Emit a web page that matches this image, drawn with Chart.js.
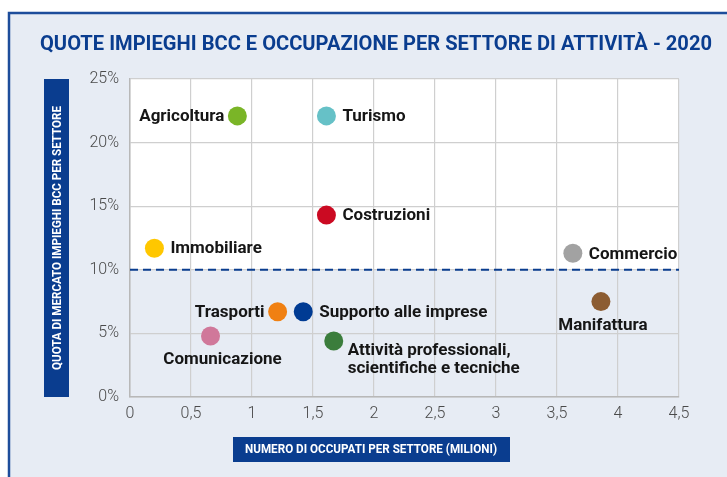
<!DOCTYPE html>
<html>
<head>
<meta charset="utf-8">
<script src="https://cdn.jsdelivr.net/npm/chart.js@4"></script>
<style>
  html, body { margin: 0; padding: 0; background: #ffffff; }
  #wrap { width: 727px; height: 477px; }
</style>
</head>
<body>
<div id="wrap"><canvas id="chart" width="727" height="477"></canvas></div>
<script>
// dati
const sectors = ['Agricoltura', 'Turismo', 'Costruzioni', 'Immobiliare', 'Trasporti',
    'Supporto alle imprese', 'Comunicazione', 'Attività professionali,\nscientifiche e tecniche',
    'Commercio', 'Manifattura'];
const employed = [0.88, 1.61, 1.61, 0.20, 1.21, 1.42, 0.66, 1.67, 3.63, 3.86];   // milioni
const share = [22.1, 22.1, 14.3, 11.7, 6.7, 6.7, 4.8, 4.4, 11.3, 7.5];          // %
const colors = ['#7ab527', '#66c1c7', '#cb0a22', '#ffc700', '#f08012', '#003b93',
    '#d0789a', '#3b7d3c', '#a2a2a2', '#8c5c32'];
const labelPos = ['left', 'right', 'right', 'right', 'left', 'right', 'below', 'belowright', 'right', 'below'];
const xTicks = [0, 0.5, 1, 1.5, 2, 2.5, 3, 3.5, 4, 4.5];
const yTicks = [0, 5, 10, 15, 20, 25];
const threshold = 10;

const BG = '#e7ecf4';
const NAVY = '#0a3d8f';

const decor = {
    id: 'decor',
    beforeDraw(chart) {
        const c = chart.ctx;
        const a = chart.chartArea;
        const y = chart.scales.y;
        c.save();
        c.fillStyle = '#ffffff';
        c.fillRect(0, 0, chart.width, chart.height);
        c.fillStyle = BG;
        c.fillRect(9, 13, chart.width - 9, chart.height - 13);
        // bordo blu
        c.strokeStyle = '#1d4d9b';
        c.lineWidth = 2.5;
        c.beginPath();
        c.moveTo(9, chart.height);
        c.lineTo(9, 13);
        c.lineTo(chart.width, 13);
        c.stroke();
        // area sopra la soglia in bianco
        const yt = y.getPixelForValue(threshold);
        c.fillStyle = '#ffffff';
        c.fillRect(a.left, a.top, a.right - a.left, yt - a.top);
        // titolo
        c.fillStyle = NAVY;
        c.font = 'bold 21px Roboto';
        c.textAlign = 'center';
        c.textBaseline = 'middle';
        c.fillText('QUOTE IMPIEGHI BCC E OCCUPAZIONE PER SETTORE DI ATTIVITÀ - 2020', 376, 45, 672);
        c.restore();
    },
    beforeDatasetsDraw(chart) {
        const c = chart.ctx;
        const a = chart.chartArea;
        const yt = chart.scales.y.getPixelForValue(threshold);
        c.save();
        c.strokeStyle = NAVY;
        c.lineWidth = 2;
        c.setLineDash([8, 5]);
        c.beginPath();
        c.moveTo(a.left, yt);
        c.lineTo(a.right, yt);
        c.stroke();
        c.restore();
    },
    afterDatasetsDraw(chart) {
        const c = chart.ctx;
        const xs = chart.scales.x, ys = chart.scales.y;
        c.save();
        c.fillStyle = '#161616';
        c.font = 'bold 17px Roboto';
        c.textBaseline = 'middle';
        sectors.forEach((name, i) => {
            const px = xs.getPixelForValue(employed[i]);
            const py = ys.getPixelForValue(share[i]);
            const lines = name.split('\n');
            const pos = labelPos[i];
            if (pos === 'left') {
                c.textAlign = 'right';
                c.fillText(lines[0], px - 13, py + 1);
            } else if (pos === 'right') {
                c.textAlign = 'left';
                c.fillText(lines[0], px + 16, py + 1);
            } else if (pos === 'below') {
                // Comunicazione un po' spostata a destra, Manifattura centrata
                c.textAlign = 'center';
                c.fillText(lines[0], px + (px < 300 ? 12 : 2), py + 24);
            } else {
                c.textAlign = 'left';
                lines.forEach((l, k) => c.fillText(l, px + 14, py + 10 + k * 18));
            }
        });
        c.restore();
    },
    afterDraw(chart) {
        const c = chart.ctx;
        const a = chart.chartArea;
        c.save();
        // etichetta asse y
        c.fillStyle = NAVY;
        c.fillRect(44, a.top, 25, a.bottom - a.top);
        c.translate(57, (a.top + a.bottom) / 2);
        c.rotate(-Math.PI / 2);
        c.fillStyle = '#ffffff';
        c.font = 'bold 12px Roboto';
        c.textAlign = 'center';
        c.textBaseline = 'middle';
        c.fillText('QUOTA DI MERCATO IMPIEGHI BCC PER SETTORE', 0, 1, 264);
        c.restore();
        // etichetta asse x
        c.save();
        c.fillStyle = NAVY;
        c.fillRect(233, 437, 277, 25);
        c.fillStyle = '#ffffff';
        c.font = 'bold 12px Roboto';
        c.textAlign = 'center';
        c.textBaseline = 'middle';
        c.fillText('NUMERO DI OCCUPATI PER SETTORE (MILIONI)', 371, 450, 252);
        c.restore();
    }
};

const ctx = document.getElementById('chart').getContext('2d');
new Chart(ctx, {
    type: 'scatter',
    data: {
        datasets: [{
            data: sectors.map((s, i) => ({ x: employed[i], y: share[i] })),
            backgroundColor: colors,
            borderWidth: 0,
            pointRadius: 9.5,
            pointHoverRadius: 9.5
        }]
    },
    options: {
        responsive: false,
        animation: false,
        events: [],
        layout: { padding: { top: 79, right: 48, left: 0, bottom: 0 } },
        plugins: { legend: { display: false }, tooltip: { enabled: false } },
        scales: {
            x: {
                type: 'linear',
                min: 0, max: 4.5,
                afterBuildTicks: s => { s.ticks = xTicks.map(v => ({ value: v })); },
                afterFit: s => { s.height = 80; },
                grid: { color: '#cfcfcf', lineWidth: 1.2, drawTicks: false },
                border: { color: '#b8b8b8', width: 1.5 },
                ticks: {
                    padding: 7,
                    color: '#4a4a4a',
                    font: { family: 'Roboto', size: 16, weight: 300 },
                    callback: v => String(v).replace('.', ',')
                }
            },
            y: {
                type: 'linear',
                min: 0, max: 25,
                afterBuildTicks: s => { s.ticks = yTicks.map(v => ({ value: v })); },
                afterFit: s => { s.width = 130; },
                grid: { color: '#cfcfcf', lineWidth: 1.2, drawTicks: false },
                border: { color: '#b8b8b8', width: 1.5 },
                ticks: {
                    padding: 11,
                    color: '#4a4a4a',
                    font: { family: 'Roboto', size: 16, weight: 300 },
                    callback: v => v + '%'
                }
            }
        }
    },
    plugins: [decor]
});
</script>
</body>
</html>
